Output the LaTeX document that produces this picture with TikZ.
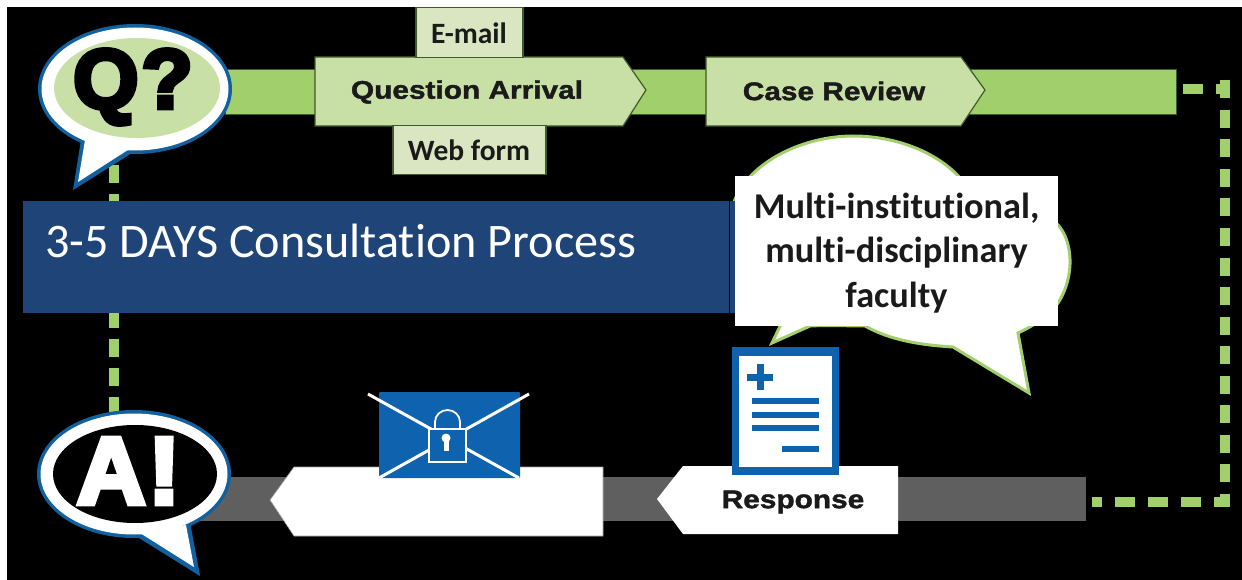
\documentclass[tikz,border=0pt]{standalone}
\usepackage{fontspec}
\setmainfont{Carlito}[Ligatures=NoCommon]
\newfontfamily\heavy[UprightFont=* Bold,FakeBold=1.6,FakeStretch=1.17]{Liberation Sans}
\newfontfamily\blackfont[UprightFont=* Bold,FakeBold=5.5]{Liberation Sans}
\definecolor{barg}{HTML}{A0CF6B}
\definecolor{lightg}{HTML}{C8DFA6}
\definecolor{tagg}{HTML}{DAE6C2}
\definecolor{edgeg}{HTML}{3F5A28}
\definecolor{navy}{HTML}{1F4478}
\definecolor{iconb}{HTML}{0F62AE}
\definecolor{rimb}{HTML}{11609F}
\definecolor{grey}{HTML}{5F5F5F}
\definecolor{inkc}{HTML}{1A1A1A}
\tikzset{
  x=1pt,y=-1pt,
  greenbar/.style={fill=barg,draw=edgeg,line width=.6pt},
  arrowbox/.style={fill=lightg,draw=edgeg,line width=1.2pt},
  tagbox/.style={fill=tagg,draw=edgeg,line width=1.2pt},
  dashleft/.style={draw=barg,line width=10pt,dash pattern=on 18pt off 11pt},
  dashvert/.style={draw=barg,line width=10pt,dash pattern=on 18pt off 11.5pt},
  dashhoriz/.style={draw=barg,line width=10pt,dash pattern=on 20pt off 13pt},
  iconline/.style={draw=iconb,line width=5.5pt},
}
\begin{document}
\begin{tikzpicture}
\useasboundingbox (0,0) rectangle (1242,580);
\fill[white] (0,0) rectangle (1242,580);
\fill[black] (7,7) rectangle (1242,580);
% coordinates for connectors
\coordinate (qfoot) at (114,165);
\coordinate (atop) at (114,412);
\coordinate (barend) at (1183,89.5);
\coordinate (cornerTop) at (1230,89.5);
\coordinate (sideTop) at (1225,80.5);
\coordinate (sideBot) at (1225,507);
\coordinate (greyend) at (1092,502);
\coordinate (cornerBot) at (1230,502);
% dashed connectors
\draw[dashleft] (qfoot) -- (atop);
\draw[dashhoriz] (barend) -- (cornerTop);
\draw[dashvert] (sideTop) -- (sideBot);
\draw[dashhoriz,dash phase=10pt] (greyend) -- (cornerBot);
% top bar
\path[greenbar] (225,69) rectangle (1176,114);
% grey bar
\fill[grey] (200,477) rectangle (1086,521);
% Q bubble
\fill[rimb] (135,89) ellipse [x radius=97,y radius=65];
\fill[rimb,draw=rimb,line width=3pt] (82,143) -- (75,187) -- (134,150) -- cycle;
\fill[white] (135,89) ellipse [x radius=93.5,y radius=61.5];
\fill[white] (85,140) -- (78,182) -- (131,148) -- cycle;
\fill[lightg] (137,88) ellipse [x radius=83,y radius=50];
\node[inner sep=0pt,font=\blackfont\fontsize{84}{84}\selectfont] (qmark) at (133,87) {Q\kern3pt?};
% A bubble
\fill[rimb] (134,474) ellipse [x radius=97,y radius=64];
\fill[rimb,draw=rimb,line width=3pt] (137,535) -- (198,573) -- (189,525) -- cycle;
\fill[white] (134,474) ellipse [x radius=93.5,y radius=60.5];
\fill[white] (140,533) -- (194,567) -- (186,525) -- cycle;
\fill[black] (135,474) ellipse [x radius=82,y radius=49];
\node[inner sep=0pt,text=white,font=\blackfont\fontsize{95}{95}\selectfont] (amark) at (128.5,471) {A\kern3pt!};
% top arrow boxes
\path[arrowbox] (315,57) -- (623,57) -- (646,90) -- (623,126) -- (315,126) -- cycle;
\path[arrowbox] (706,57) -- (961,57) -- (985,90) -- (961,126) -- (706,126) -- cycle;
\node[inner sep=0pt,text=inkc,font=\heavy\fontsize{25.5}{26}\selectfont] (qa) at (467,92) {Question Arrival};
\node[inner sep=0pt,text=inkc,font=\heavy\fontsize{25.5}{26}\selectfont] (cr) at (834,91) {Case Review};
\node[tagbox,minimum width=107pt,minimum height=50pt,inner sep=0pt] (email) at (469.5,32.5) {};
\node[inner sep=0pt,text=inkc,font=\bfseries\fontsize{29.5}{30}\selectfont] (emailtext) at (469,33) {E-mail};
\node[tagbox,minimum width=153pt,minimum height=49pt,inner sep=0pt] (webform) at (469.5,150) {};
\node[inner sep=0pt,text=inkc,font=\bfseries\fontsize{29.5}{30}\selectfont] (webtext) at (469,150) {Web form};
% bubble
\path[fill=white,draw=barg,line width=3pt,line join=miter]
 (853,136) .. controls (900,136) and (940,155) .. (960,178)
 .. controls (1000,190) and (1040,205) .. (1058,225)
 .. controls (1072,240) and (1076,275) .. (1058,303)
 .. controls (1050,315) and (1035,325) .. (1018,333)
 -- (1029,393) -- (953,347)
 .. controls (920,345) and (890,340) .. (865,326)
 .. controls (850,326) and (830,325) .. (810,326)
 -- (772,343) -- (783,320)
 .. controls (745,290) and (728,240) .. (733,205)
 .. controls (745,165) and (800,136) .. (853,136) -- cycle;
% blue band
\fill[navy] (23,201) rectangle (735,313);
\draw[black,line width=.8pt] (729,201) -- (729,313);
\node[anchor=west,inner sep=0pt,text=white,font=\fontsize{48.2}{49}\selectfont] (band) at (45,241) {3-5 DAYS Consultation Process};
% white text box
\node[fill=white,inner sep=0pt,minimum width=323pt,minimum height=150pt] (faculty) at (896.5,251) {};
\node[inner sep=0pt,align=center,text=inkc,font=\bfseries\fontsize{36.3}{44.5}\selectfont] (facultytext) at (896.5,253) {Multi-institutional,\\multi-disciplinary\\faculty};
% lower arrows
\path[fill=white,draw=grey!60!white,line width=.6pt] (603,467) -- (294,467) -- (270,500) -- (294,536) -- (603,536) -- cycle;
\path[fill=white] (898,466) -- (683,466) -- (657,499) -- (683,534) -- (898,534) -- cycle;
\node[inner sep=0pt,text=inkc,font=\heavy\fontsize{25.5}{26}\selectfont] (resp) at (793,502) {Response};
% envelope
\fill[iconb,rounded corners=1pt] (379,392) rectangle (520,478);
\draw[white,line width=3pt] (368,394) -- (519,478);
\draw[white,line width=3pt] (529,394) -- (379,478);
\draw[white,line width=1.8pt] (435,430) -- (435,422) arc[start angle=180,end angle=360,x radius=12.5,y radius=12] -- (460,430);
\path[fill=iconb,draw=white,line width=1.8pt] (429,429) rectangle (466,462);
\fill[white] (446,438) circle (4.5);
\fill[white] (443.5,440) rectangle (448.5,451);
% document
\fill[iconb] (732,347) rectangle (839,475);
\fill[white] (739,356) rectangle (832,467);
\draw[draw=iconb,line width=7pt] (747,377) -- (773,377);
\draw[draw=iconb,line width=7pt] (760,364) -- (760,390);
\draw[iconline] (752,401) -- (819,401);
\draw[iconline] (752,415) -- (819,415);
\draw[iconline] (752,428) -- (819,428);
\draw[iconline] (782,449) -- (819,449);
\end{tikzpicture}
\end{document}
